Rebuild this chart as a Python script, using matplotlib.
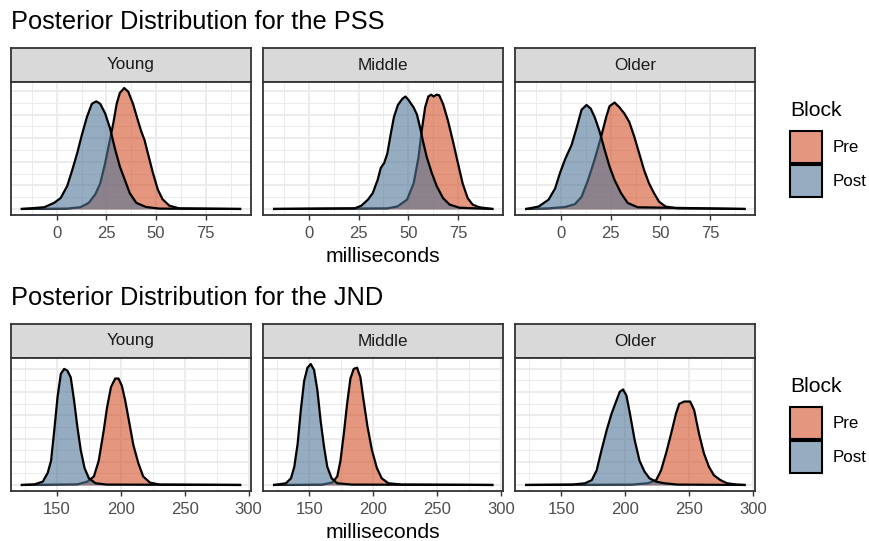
import numpy as np
import matplotlib
matplotlib.use("Agg")
import matplotlib.pyplot as plt
from matplotlib.patches import Rectangle
from matplotlib.ticker import MultipleLocator

plt.rcParams['font.family'] = ['Liberation Sans', 'DejaVu Sans']

groups = ['Young', 'Middle', 'Older']
blocks = ['Pre', 'Post']
fills = {'Pre': '#D4502A', 'Post': '#507596'}

# posterior densities, heights relative to the tallest curve in each row
pss_young_pre_x = [-17.5, 5.3, 11.9, 16.1, 19.4, 21.9, 24.4, 26.8, 28.5, 30.2, 31.8, 34.0, 36.0, 38.4, 40.9, 42.6, 44.2, 45.9, 48.4, 50.9, 53.3, 56.7, 61.6, 92.3]
pss_young_pre_y = [0, 0.003, 0.014, 0.05, 0.12, 0.21, 0.38, 0.57, 0.71, 0.87, 0.96, 1.0, 0.97, 0.87, 0.73, 0.64, 0.57, 0.46, 0.30, 0.16, 0.08, 0.027, 0.005, 0]
pss_young_post_x = [-17.5, -6.3, -1.3, 2.0, 5.3, 7.8, 10.3, 12.8, 15.2, 17.7, 19.9, 21.9, 24.4, 26.8, 29.3, 31.8, 34.3, 36.8, 40.1, 45.0, 51.7, 92.3]
pss_young_post_y = [0, 0.014, 0.05, 0.09, 0.19, 0.32, 0.46, 0.62, 0.76, 0.87, 0.89, 0.87, 0.79, 0.67, 0.50, 0.35, 0.24, 0.13, 0.05, 0.016, 0.003, 0]

pss_middle_pre_x = [-17.5, 39.5, 44.5, 49.4, 52.7, 55.2, 56.8, 58.5, 60.1, 61.5, 62.8, 64.3, 65.6, 67.5, 70.0, 72.5, 75.0, 77.4, 79.9, 82.4, 85.7, 92.3]
pss_middle_pre_y = [0, 0.005, 0.02, 0.077, 0.21, 0.43, 0.65, 0.84, 0.93, 0.945, 0.93, 0.945, 0.94, 0.87, 0.73, 0.56, 0.38, 0.21, 0.09, 0.036, 0.014, 0]
pss_middle_post_x = [-17.5, 23.1, 26.4, 29.7, 32.1, 34.6, 36.2, 37.9, 39.5, 41.2, 42.8, 44.8, 47.0, 48.6, 50.2, 52.7, 54.4, 56.0, 57.7, 59.3, 61.8, 64.3, 67.5, 70.8, 75.8, 92.3]
pss_middle_post_y = [0, 0.005, 0.027, 0.077, 0.13, 0.24, 0.34, 0.38, 0.46, 0.62, 0.76, 0.86, 0.91, 0.93, 0.90, 0.84, 0.78, 0.67, 0.54, 0.43, 0.30, 0.19, 0.09, 0.036, 0.01, 0]

pss_older_pre_x = [-17.5, -6.3, 2.0, 7.0, 10.3, 13.6, 16.9, 20.2, 22.7, 24.4, 26.9, 29.4, 31.8, 34.3, 36.8, 39.3, 41.8, 44.3, 46.8, 49.3, 52.6, 58.4, 92.3]
pss_older_pre_y = [0, 0.005, 0.016, 0.04, 0.10, 0.24, 0.41, 0.60, 0.76, 0.85, 0.88, 0.84, 0.79, 0.72, 0.60, 0.46, 0.32, 0.21, 0.13, 0.06, 0.02, 0.005, 0]
pss_older_post_x = [-17.5, -11.3, -6.3, -3.0, -0.5, 2.0, 5.3, 7.8, 10.3, 12.8, 14.9, 16.9, 19.4, 21.9, 24.4, 26.9, 30.2, 33.5, 38.5, 92.3]
pss_older_post_y = [0, 0.02, 0.077, 0.17, 0.30, 0.41, 0.53, 0.67, 0.82, 0.86, 0.83, 0.76, 0.64, 0.49, 0.35, 0.24, 0.13, 0.05, 0.014, 0]

jnd_young_pre_x = [122.6, 166.0, 173.7, 178.9, 182.7, 186.6, 189.2, 192.3, 195.6, 198.2, 200.8, 203.4, 206.7, 209.8, 213.7, 217.5, 222.7, 230.4, 293.3]
jnd_young_pre_y = [0, 0.005, 0.027, 0.07, 0.20, 0.45, 0.64, 0.81, 0.88, 0.88, 0.82, 0.70, 0.51, 0.33, 0.18, 0.07, 0.02, 0.003, 0]
jnd_young_post_x = [122.6, 132.5, 138.9, 142.8, 145.4, 147.9, 150.5, 153.1, 155.7, 158.2, 160.8, 163.4, 166.0, 168.6, 171.6, 175.0, 180.2, 189.2, 293.3]
jnd_young_post_y = [0, 0.005, 0.027, 0.10, 0.20, 0.45, 0.73, 0.92, 0.96, 0.945, 0.89, 0.70, 0.48, 0.29, 0.14, 0.055, 0.014, 0.003, 0]

jnd_middle_pre_x = [122.6, 160.3, 168.1, 172.0, 174.5, 177.1, 179.7, 182.3, 184.9, 187.5, 190.1, 192.6, 195.7, 199.1, 203.0, 206.8, 212.0, 222.4, 293.3]
jnd_middle_pre_y = [0, 0.003, 0.02, 0.07, 0.20, 0.42, 0.67, 0.88, 0.96, 0.97, 0.89, 0.70, 0.48, 0.29, 0.14, 0.055, 0.014, 0.003, 0]
jnd_middle_post_x = [122.6, 131.9, 135.8, 138.4, 141.0, 143.5, 146.1, 148.7, 151.3, 153.9, 156.5, 159.0, 161.6, 164.2, 167.6, 172.0, 183.6, 293.3]
jnd_middle_post_y = [0, 0.014, 0.055, 0.15, 0.34, 0.62, 0.86, 0.97, 1.0, 0.95, 0.78, 0.53, 0.32, 0.15, 0.055, 0.014, 0.003, 0]

jnd_older_pre_x = [122.6, 204.8, 217.7, 224.2, 228.0, 231.9, 235.8, 239.7, 242.2, 246.1, 250.8, 253.9, 257.8, 261.6, 265.5, 269.4, 274.5, 279.7, 287.5, 293.3]
jnd_older_pre_y = [0, 0.003, 0.014, 0.04, 0.12, 0.26, 0.42, 0.59, 0.67, 0.69, 0.69, 0.62, 0.42, 0.26, 0.15, 0.08, 0.04, 0.014, 0.003, 0]
jnd_older_post_x = [122.6, 158.3, 168.6, 173.8, 177.6, 181.5, 185.4, 189.3, 193.2, 195.7, 198.3, 200.9, 203.5, 207.4, 211.2, 215.1, 219.0, 224.2, 230.6, 241.0, 293.3]
jnd_older_post_y = [0, 0.003, 0.014, 0.04, 0.12, 0.29, 0.45, 0.59, 0.70, 0.77, 0.79, 0.74, 0.60, 0.37, 0.20, 0.11, 0.055, 0.027, 0.014, 0.003, 0]

rows = [
    {'title': 'Posterior Distribution for the PSS', 'major': 25, 'ystep': 0.195,
     'curves': {'Young': {'Pre': (pss_young_pre_x, pss_young_pre_y), 'Post': (pss_young_post_x, pss_young_post_y)},
                'Middle': {'Pre': (pss_middle_pre_x, pss_middle_pre_y), 'Post': (pss_middle_post_x, pss_middle_post_y)},
                'Older': {'Pre': (pss_older_pre_x, pss_older_pre_y), 'Post': (pss_older_post_x, pss_older_post_y)}}},
    {'title': 'Posterior Distribution for the JND', 'major': 50, 'ystep': 0.192,
     'curves': {'Young': {'Pre': (jnd_young_pre_x, jnd_young_pre_y), 'Post': (jnd_young_post_x, jnd_young_post_y)},
                'Middle': {'Pre': (jnd_middle_pre_x, jnd_middle_pre_y), 'Post': (jnd_middle_post_x, jnd_middle_post_y)},
                'Older': {'Pre': (jnd_older_pre_x, jnd_older_pre_y), 'Post': (jnd_older_post_x, jnd_older_post_y)}}},
]

W, H = 869, 541
fig = plt.figure(figsize=(W / 100, H / 100), dpi=100)


def box(l, t, w, h):
    return [l / W, 1 - (t + h) / H, w / W, h / H]


def fx(px):
    return px / W


def fy(py):
    return 1 - py / H


lefts = [11, 263.2, 515.4]
pw, strip_h, ph = 240, 34, 133
alpha = 0.6

for r, row in enumerate(rows):
    off = 276 * r
    fig.text(fx(11), fy(29 + off), row['title'], fontsize=18.3, va='baseline', ha='left')

    allx = [v for g in groups for b in blocks for v in row['curves'][g][b][0]]
    lo, hi = min(allx), max(allx)
    pad = (hi - lo) * 0.05

    for i, g in enumerate(groups):
        sax = fig.add_axes(box(lefts[i], 48 + off, pw, strip_h))
        sax.set_facecolor('#D9D9D9')
        sax.set_xticks([])
        sax.set_yticks([])
        for s in sax.spines.values():
            s.set_color('#333333')
            s.set_linewidth(1.3)
        sax.text(0.5, 0.5, g, ha='center', va='center', fontsize=12.3, color='#1A1A1A',
                 transform=sax.transAxes)

        ax = fig.add_axes(box(lefts[i], 48 + off + strip_h, pw, ph))
        for b in blocks:
            x, y = row['curves'][g][b]
            ax.fill_between(x, y, color=fills[b], alpha=alpha, lw=0, zorder=2)
            ax.plot(x, y, color='black', lw=1.6, zorder=2)
        ax.set_xlim(lo - pad, hi + pad)
        ax.set_ylim(-0.05, 1.05)
        ax.xaxis.set_major_locator(MultipleLocator(row['major']))
        ax.xaxis.set_minor_locator(MultipleLocator(row['major'] / 2))
        ax.yaxis.set_major_locator(MultipleLocator(row['ystep']))
        ax.yaxis.set_minor_locator(MultipleLocator(row['ystep'] / 2))
        ax.grid(which='major', color='#EBEBEB', lw=1.3)
        ax.grid(which='minor', color='#EBEBEB', lw=0.7)
        ax.set_axisbelow(True)
        ax.tick_params(axis='x', which='major', length=3.5, width=1, color='#333333',
                       labelcolor='#4D4D4D', labelsize=12, pad=4.5)
        ax.tick_params(axis='x', which='minor', length=0)
        ax.tick_params(axis='y', which='both', left=False, labelleft=False)
        for s in ax.spines.values():
            s.set_color('#333333')
            s.set_linewidth(1.3)

    fig.text(fx(383), fy(256 + off), 'milliseconds', fontsize=15.2, ha='center', va='center')

    # legend
    fig.text(fx(790), fy(110 + off), 'Block', fontsize=15.2, ha='left', va='center')
    for k, b in enumerate(blocks):
        top = 131 + off + k * 34
        fig.add_artist(Rectangle((fx(790), fy(top + 32)), 32 / W, 32 / H, transform=fig.transFigure,
                                 facecolor=fills[b], alpha=alpha, lw=0))
        fig.add_artist(Rectangle((fx(790), fy(top + 32)), 32 / W, 32 / H, transform=fig.transFigure,
                                 facecolor='none', edgecolor='black', lw=1.5))
        fig.text(fx(833), fy(top + 16), b, fontsize=12.2, ha='left', va='center')

fig.savefig('out.png', dpi=100)
